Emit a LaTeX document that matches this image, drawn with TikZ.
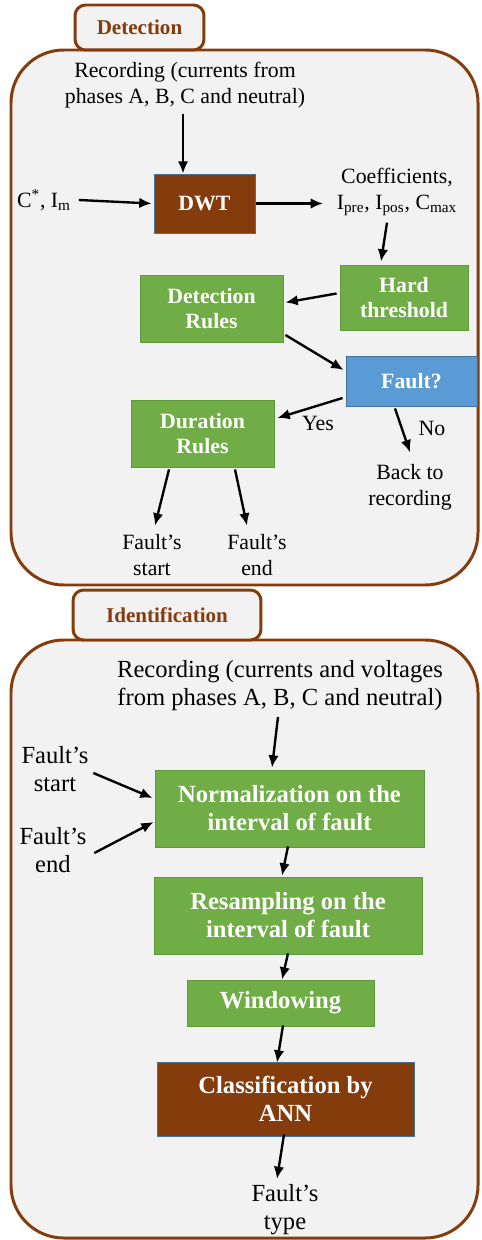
\documentclass[tikz,border=0pt]{standalone}
\usepackage{fontspec}
\setmainfont{Liberation Serif}
\usetikzlibrary{arrows.meta, positioning}
\definecolor{rustbrown}{HTML}{843C0C}
\definecolor{leafgreen}{HTML}{70AD47}
\definecolor{leafedge}{HTML}{5E9A3A}
\definecolor{skyblue}{HTML}{5B9BD5}
\definecolor{steeledge}{HTML}{41719C}
\definecolor{panelgray}{HTML}{F2F2F2}

\begin{document}
\begin{tikzpicture}[
  x=0.02cm, y=-0.02cm,
  >={Latex[length=7pt,width=6pt]},
  every node/.style={align=center, inner sep=2pt},
  detfont/.style={every node/.append style={font=\fontsize{12.4}{14.7}\selectfont}},
  idfont/.style={every node/.append style={font=\fontsize{14}{15.9}\selectfont}},
  panel/.style={draw=rustbrown, line width=1.7pt, fill=panelgray, rounded corners=30pt},
  tab/.style={draw=rustbrown, line width=1.7pt, fill=panelgray, rounded corners=6pt, font=\fontsize{12}{14.6}\selectfont\bfseries, text=rustbrown},
  box/.style={draw=leafedge, line width=0.5pt, fill=leafgreen, text=white, execute at begin node=\bfseries},
  darkbox/.style={box, draw=steeledge, fill=rustbrown},
  askbox/.style={box, draw=steeledge, fill=skyblue},
  arrow/.style={->, line width=1.35pt, draw=black}
]
\useasboundingbox (0,0) rectangle (481,1240);

% detection stage
\draw[panel] (11,50) rectangle (478,585);
\node[tab, minimum width=2.58cm, minimum height=0.9cm] (dettab) at (139.5,27.5) {Detection};

\begin{scope}[detfont]
\node (rec1) at (185,85) {Recording (currents from\\phases A, B, C and neutral)};
\node (cin) at (44,200) {C\textsuperscript{*}, I\textsubscript{m}};
\node[darkbox, minimum width=2.02cm, minimum height=1.18cm] (dwt) at (204.5,203.5) {DWT};
\node (coef) at (397,192) {Coefficients,\\I\textsubscript{pre}, I\textsubscript{pos}, C\textsubscript{max}};
\node[box, minimum width=2.56cm, minimum height=1.3cm] (hard) at (404,297.5) {Hard\\threshold};
\node[box, minimum width=2.86cm, minimum height=1.34cm] (detrules) at (211.5,308.5) {Detection\\Rules};
\node[askbox, minimum width=2.62cm, minimum height=1.0cm] (fault) at (411.5,381) {Fault?};
\node[box, minimum width=2.86cm, minimum height=1.34cm] (durrules) at (202.5,433.5) {Duration\\Rules};
\node (yes) at (318,423) {Yes};
\node (no) at (432,428) {No};
\node (back) at (410,487) {Back to\\recording};
\node (fstart) at (152,555) {Fault’s\\start};
\node (fend) at (257,555) {Fault’s\\end};
\end{scope}

\draw[arrow] ([shift={(-2,2)}]rec1.south) -- (dwt.north -| 183,0);
\draw[arrow] ([shift={(4,0)}]cin.east) -- ([shift={(-2,0)}]dwt.west);
\draw[arrow] ([shift={(1,0)}]dwt.east) -- ([shift={(-10,0)}]coef.west |- dwt.east);
\draw[arrow] ([shift={(-10,3)}]coef.south) -- ([shift={(-23,-3)}]hard.north);
\draw[arrow] ([shift={(-3,-4)}]hard.west) -- ([shift={(2,-6)}]detrules.east);
\draw[arrow] ([shift={(2,26.5)}]detrules.east) -- ([shift={(-2,-11)}]fault.west);
\draw[arrow] ([shift={(-3,17)}]fault.west) -- ([shift={(3,-15.5)}]durrules.east);
\draw[arrow] ([shift={(-16.5,2)}]fault.south) -- ([shift={(0,-8)}]back.north);
\draw[arrow] ([shift={(-33.5,2)}]durrules.south) -- ([shift={(3,-5)}]fstart.north);
\draw[arrow] ([shift={(32.5,2)}]durrules.south) -- ([shift={(-10,-5)}]fend.north);

% identification stage
\draw[panel] (11,640) rectangle (478,1238);
\node[tab, minimum width=3.76cm, minimum height=1.0cm] (idtab) at (167,615) {Identification};

\begin{scope}[idfont]
\node (rec2) at (280,686) {Recording (currents and voltages\\from phases A, B, C and neutral)};
\node (fstart2) at (55,769) {Fault’s\\start};
\node (fend2) at (53,850) {Fault’s\\end};
\node[box, minimum width=5.38cm, minimum height=1.54cm] (norm) at (289.5,808.5) {Normalization on the\\interval of fault};
\node[box, minimum width=5.36cm, minimum height=1.54cm] (resamp) at (288,915.5) {Resampling on the\\interval of fault};
\node[box, minimum width=3.74cm, minimum height=0.92cm] (window) at (280.5,1003) {Windowing};
\node[darkbox, minimum width=5.14cm, minimum height=1.48cm] (classif) at (285.5,1099) {Classification by\\ANN};
\node (ftype) at (285,1210) {Fault’s\\type};
\end{scope}

\draw[arrow] ([shift={(-2,2)}]rec2.south) -- ([shift={(-17.5,-2)}]norm.north);
\draw[arrow] ([shift={(1,4)}]fstart2.east) -- ([shift={(-2,-10.5)}]norm.west);
\draw[arrow] ([shift={(4,3)}]fend2.east) -- ([shift={(-1,13.5)}]norm.west);
\draw[arrow] ([shift={(-1.5,-1)}]norm.south) -- ([shift={(-6,-1)}]resamp.north);
\draw[arrow] ([shift={(0,-1)}]resamp.south) -- ([shift={(1.5,0)}]window.north);
\draw[arrow] ([shift={(2.5,-1)}]window.south) -- ([shift={(-8.5,1)}]classif.north);
\draw[arrow] ([shift={(-1.5,-2)}]classif.south) -- ([shift={(-8,-2)}]ftype.north);
\end{tikzpicture}
\end{document}
